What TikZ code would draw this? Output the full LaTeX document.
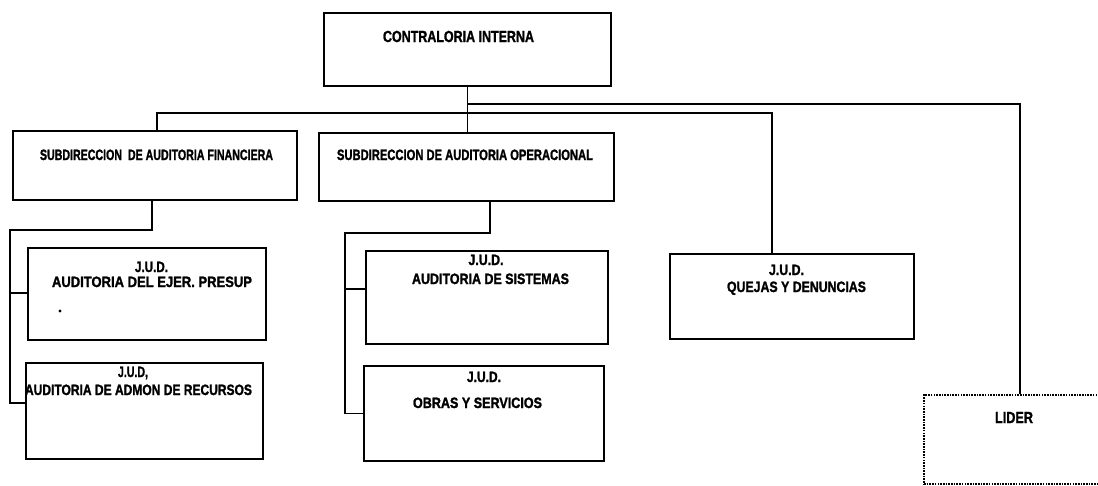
\documentclass[tikz,border=0pt]{standalone}
\usepackage{fontspec}
\setmainfont{Liberation Sans}
\newfontfamily\heavy[FakeBold=1.6]{Liberation Sans Bold}
\usepackage{graphicx}
\newcommand{\fitw}[2]{\resizebox{#1pt}{\height}{\heavy #2}}
\begin{document}
\begin{tikzpicture}[x=1pt,y=-1pt,
  box/.style={draw, line width=1.5pt, inner sep=0pt, anchor=north west},
  dotbox/.style={draw, line width=2pt, dash pattern=on 1.6pt off 1.1pt, inner sep=0pt, anchor=north west},
  lbl/.style={inner sep=0pt, anchor=base, font=\fontsize{15}{15}\selectfont},
  conn/.style={line width=1.5pt}]
\path[use as bounding box] (0,0) rectangle (1098,485);
\clip (0,0) rectangle (1098,485);
\fill[white] (0,0) rectangle (1098,485);
% boxes
\node[box, minimum width=287pt, minimum height=73pt] (top) at (323,12) {};
\node[box, minimum width=284pt, minimum height=69pt] (fin) at (12,130) {};
\node[box, minimum width=295pt, minimum height=68pt] (op) at (318,132) {};
\node[box, minimum width=238pt, minimum height=92pt] (ejer) at (27,247) {};
\node[box, minimum width=237pt, minimum height=96pt] (admon) at (25,362) {};
\node[box, minimum width=242pt, minimum height=93pt] (sis) at (365,250) {};
\node[box, minimum width=240pt, minimum height=95pt] (obras) at (363,365) {};
\node[box, minimum width=244pt, minimum height=85pt] (quejas) at (669,253) {};
\node[dotbox, minimum width=200pt, minimum height=89pt] (lider) at (923,394) {};
% texts
\node[lbl, font=\fontsize{16}{16}\selectfont] (t0) at (458.5,42) {\fitw{151}{CONTRALORIA INTERNA}};
\node[lbl] (t1) at (156.5,160) {\fitw{233}{SUBDIRECCION\ \ DE AUDITORIA FINANCIERA}};
\node[lbl] (t2) at (465,160) {\fitw{256}{SUBDIRECCION DE AUDITORIA OPERACIONAL}};
\node[lbl] (t3a) at (151.5,272) {\fitw{33}{J.U.D.}};
\node[lbl] (t3b) at (152,287) {\fitw{200}{AUDITORIA DEL EJER. PRESUP}};
\node[fill, circle, inner sep=1.2pt] (dot) at (60,311) {};
\node[lbl] (t4a) at (133,377) {\fitw{30}{J.U.D,}};
\node[lbl] (t4b) at (138.5,395) {\fitw{227}{AUDITORIA DE ADMON DE RECURSOS}};
\node[lbl] (t5a) at (486,265) {\fitw{35}{J.U.D.}};
\node[lbl] (t5b) at (490.5,284) {\fitw{157}{AUDITORIA DE SISTEMAS}};
\node[lbl] (t6a) at (484,382) {\fitw{34}{J.U.D.}};
\node[lbl] (t6b) at (477.5,408) {\fitw{129}{OBRAS Y SERVICIOS}};
\node[lbl] (t7a) at (786.5,275) {\fitw{35}{J.U.D.}};
\node[lbl] (t7b) at (796.5,292) {\fitw{139}{QUEJAS Y DENUNCIAS}};
\node[lbl, font=\fontsize{16}{16}\selectfont] (t8) at (1014,423) {\fitw{38}{LIDER}};
% connectors
\coordinate (bl) at (157,113);
\coordinate (br) at (772,113);
\coordinate (lc) at (1020,104);
\coordinate (f1) at (152,230);
\coordinate (fx) at (10,230);
\coordinate (fa) at (10,403);
\coordinate (fe) at (10,293);
\coordinate (o1) at (490,233);
\coordinate (ox) at (345,233);
\coordinate (os) at (345,289);
\draw[conn] (top.south) -- (top.south |- op.north);
\draw[conn] (bl |- fin.north) -- (bl) -- (br) -- (br |- quejas.north);
\draw[conn] (top.south |- lc) -- (lc) -- (lc |- lider.north);
\draw[conn] (f1 |- fin.south) -- (f1) -- (fx) -- (fa) -- (fa -| admon.west);
\draw[conn] (fe) -- (fe -| ejer.west);
\draw[conn] (o1 |- op.south) -- (o1) -- (ox) -- (ox |- obras.west) -- (obras.west);
\draw[conn] (os) -- (os -| sis.west);
\end{tikzpicture}
\end{document}
